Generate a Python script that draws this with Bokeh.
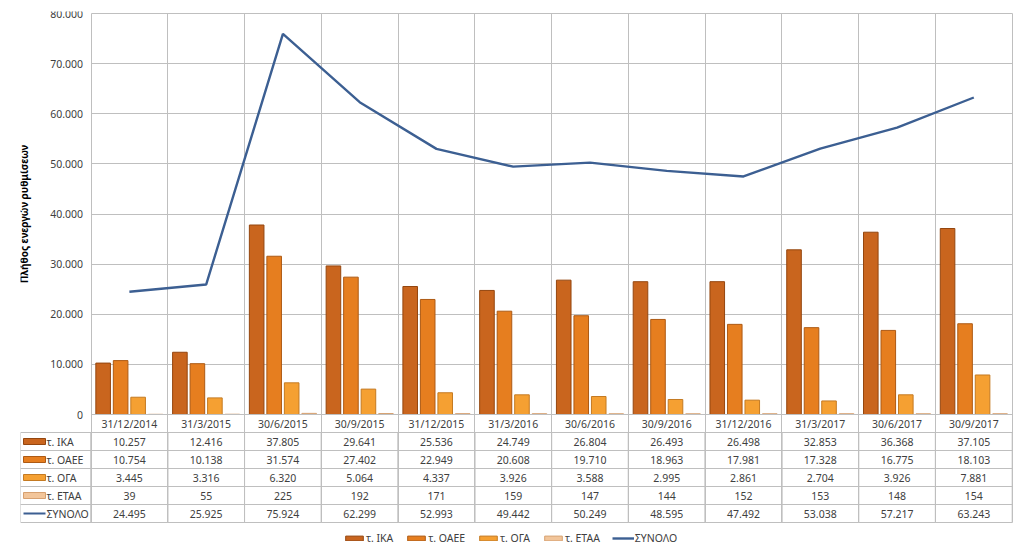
import numpy as np
from bokeh.plotting import figure
from bokeh.models import (ColumnDataSource, FixedTicker, Range1d, Legend, LegendItem, Grid)
from bokeh.core.properties import value
from bokeh.embed import file_html
from bokeh.resources import INLINE

# ---------------- data ----------------
dates = ["31/12/2014", "31/3/2015", "30/6/2015", "30/9/2015", "31/12/2015", "31/3/2016",
         "30/6/2016", "30/9/2016", "31/12/2016", "31/3/2017", "30/6/2017", "30/9/2017"]
ika = [10257, 12416, 37805, 29641, 25536, 24749, 26804, 26493, 26498, 32853, 36368, 37105]
oaee = [10754, 10138, 31574, 27402, 22949, 20608, 19710, 18963, 17981, 17328, 16775, 18103]
oga = [3445, 3316, 6320, 5064, 4337, 3926, 3588, 2995, 2861, 2704, 3926, 7881]
etaa = [39, 55, 225, 192, 171, 159, 147, 144, 152, 153, 148, 154]
total = [24495, 25925, 75924, 62299, 52993, 49442, 50249, 48595, 47492, 53038, 57217, 63243]
series_names = ["τ. ΙΚΑ", "τ. ΟΑΕΕ", "τ. ΟΓΑ", "τ. ΕΤΑΑ", "ΣΥΝΟΛΟ"]
y_ticks = list(range(0, 80001, 10000))
y_title = "Πλήθος ενεργών ρυθμίσεων"

# ---------------- styles / layout ----------------
FONT = "Noto Sans"
FS = "10.5px"
TXT = "#404040"
GRID = "#BFBFBF"
bar_colors = ["#C9651E", "#E67E1F", "#F5A032", "#F2C59A"]
bar_lines = ["#94460F", "#AD5A14", "#C47A22", "#D6A070"]
line_color = "#3C5F92"
offsets = [-0.342, -0.114, 0.114, 0.342]
bar_w = 0.19

W, H = 1016, 547
B_LEFT, B_RIGHT, B_TOP, B_BOTTOM = 20, 2, 11, 2
frame_w = W - B_LEFT - B_RIGHT
frame_h = H - B_TOP - B_BOTTOM
px_x = 921.2 / 12.0            # pixels per category
label_w = 70.5 / px_x          # width of the table's name column
chart_px = 401.0               # chart height in px (0 .. 80000)
px_y = 80000.0 / chart_px      # data units per px
row_px = 18.0                  # table row height
n_rows = 5

def fmt(v):
    return f"{v:,}".replace(",", ".")

n = len(dates)
centers = np.arange(n) + 0.5
bounds = list(range(n + 1))

x_start = -label_w
x_end = x_start + frame_w / px_x
y_top = 80000 + 2 * px_y
y_bottom = y_top - frame_h * px_y
table_bottom = -(n_rows + 1) * row_px * px_y

p = figure(width=W, height=H, output_backend="svg", toolbar_location=None,
           x_range=Range1d(x_start, x_end), y_range=Range1d(y_bottom, y_top),
           min_border_left=B_LEFT, min_border_right=B_RIGHT,
           min_border_top=B_TOP, min_border_bottom=B_BOTTOM)
p.outline_line_color = None
# table rows: 1 unit per row, 0 at table bottom
tb_px = (table_bottom - y_bottom) / px_y
p.extra_y_ranges = {"tbl": Range1d(-tb_px / row_px, (frame_h - tb_px) / row_px)}

# ---------------- grids ----------------
has_cb = "cross_bounds" in Grid.properties()
p.xgrid.ticker = FixedTicker(ticks=bounds)
p.xgrid.grid_line_color = GRID
p.ygrid.ticker = FixedTicker(ticks=y_ticks)
p.ygrid.grid_line_color = GRID
if has_cb:
    p.xgrid.cross_bounds = (table_bottom, 80000)
    p.ygrid.cross_bounds = (0, n)
else:
    p.xgrid.visible = False
    p.ygrid.visible = False
    p.segment(x0=bounds, x1=bounds, y0=[table_bottom] * len(bounds), y1=[80000] * len(bounds),
              line_color=GRID, line_width=1)
    p.segment(x0=[0] * len(y_ticks), x1=[n] * len(y_ticks), y0=y_ticks, y1=y_ticks,
              line_color=GRID, line_width=1)

# ---------------- table cells ----------------
lefts, rights, bots, tops = [], [], [], []
for r in range(n_rows):
    for c in [-1] + list(range(n)):
        lefts.append(x_start if c < 0 else c)
        rights.append(0 if c < 0 else c + 1)
        bots.append(r)
        tops.append(r + 1)
p.quad(left=lefts, right=rights, bottom=bots, top=tops, y_range_name="tbl",
       fill_color=None, line_color=GRID, line_width=1)

# ---------------- chart ----------------
src = ColumnDataSource(dict(x=centers, total=total))
bar_renderers = []
for vals, col, lc, off in zip([ika, oaee, oga, etaa], bar_colors, bar_lines, offsets):
    r = p.vbar(x=centers + off, top=vals, width=bar_w, bottom=0,
               fill_color=col, line_color=lc, line_width=1)
    bar_renderers.append(r)
line_r = p.line(x="x", y="total", source=src, line_color=line_color, line_width=2.4)

# y axis inside the plot at x = 0
p.yaxis.fixed_location = 0
p.yaxis.bounds = (0, 80000)
p.yaxis.ticker = FixedTicker(ticks=y_ticks)
p.yaxis.major_label_overrides = {v: fmt(v) for v in y_ticks}
p.yaxis.axis_line_color = None
p.yaxis.major_tick_line_color = None
p.yaxis.minor_tick_line_color = None
p.yaxis.major_label_standoff = 2
p.yaxis.major_label_text_font = FONT
p.yaxis.major_label_text_font_size = FS
p.yaxis.major_label_text_color = TXT
p.yaxis.axis_label = y_title
p.yaxis.axis_label_text_font = FONT
p.yaxis.axis_label_text_font_style = "bold"
p.yaxis.axis_label_text_font_size = "10px"
p.yaxis.axis_label_text_color = "#000000"
p.yaxis.axis_label_standoff = 17

# x axis = header row of the data table, at y = 0
p.xaxis.fixed_location = 0
p.xaxis.bounds = (0, n)
p.xaxis.ticker = FixedTicker(ticks=list(centers))
p.xaxis.major_label_overrides = {float(c): d for c, d in zip(centers, dates)}
p.xaxis.axis_line_color = GRID
p.xaxis.major_tick_line_color = None
p.xaxis.minor_tick_line_color = None
p.xaxis.major_tick_out = 0
p.xaxis.major_label_standoff = 2
p.xaxis.major_label_text_font = FONT
p.xaxis.major_label_text_font_size = FS
p.xaxis.major_label_text_color = TXT

# ---------------- table texts ----------------
rows = [ika, oaee, oga, etaa, total]
for r, vals in enumerate(rows):
    yc = n_rows - r - 0.5
    p.text(x=centers, y=[yc] * n, text=[fmt(v) for v in vals], y_range_name="tbl",
           text_font=value(FONT), text_font_size=FS, text_color=TXT,
           text_align="center", text_baseline="middle")

sw_x = x_start + (34 - 20) / px_x
name_x = x_start + (46 - 20) / px_x
for r in range(4):
    p.rect(x=[sw_x], y=[n_rows - r - 0.5], width=22, height=6, width_units="screen",
           height_units="screen", fill_color=bar_colors[r], line_color=bar_lines[r],
           y_range_name="tbl")
p.segment(x0=[sw_x - 11 / px_x], x1=[sw_x + 11 / px_x], y0=[0.5], y1=[0.5],
          line_color=line_color, line_width=2, y_range_name="tbl")
p.text(x=[name_x] * n_rows, y=[n_rows - r - 0.5 for r in range(n_rows)], text=series_names,
       y_range_name="tbl", text_font=value(FONT), text_font_size=FS, text_color=TXT,
       text_align="left", text_baseline="middle")

# ---------------- legend (inside the frame, below the table) ----------------
items = [LegendItem(label=series_names[i], renderers=[bar_renderers[i]]) for i in range(4)]
items.append(LegendItem(label=series_names[4], renderers=[line_r]))
leg = Legend(items=items, orientation="horizontal", location=(323, 0),
             glyph_width=22, glyph_height=6, label_standoff=1, spacing=12,
             padding=2, margin=0, border_line_color=None, background_fill_alpha=0,
             label_text_font=FONT, label_text_font_size=FS, label_text_color=TXT,
             label_height=13)
p.add_layout(leg)

open("out.html", "w").write(file_html(p, INLINE))
